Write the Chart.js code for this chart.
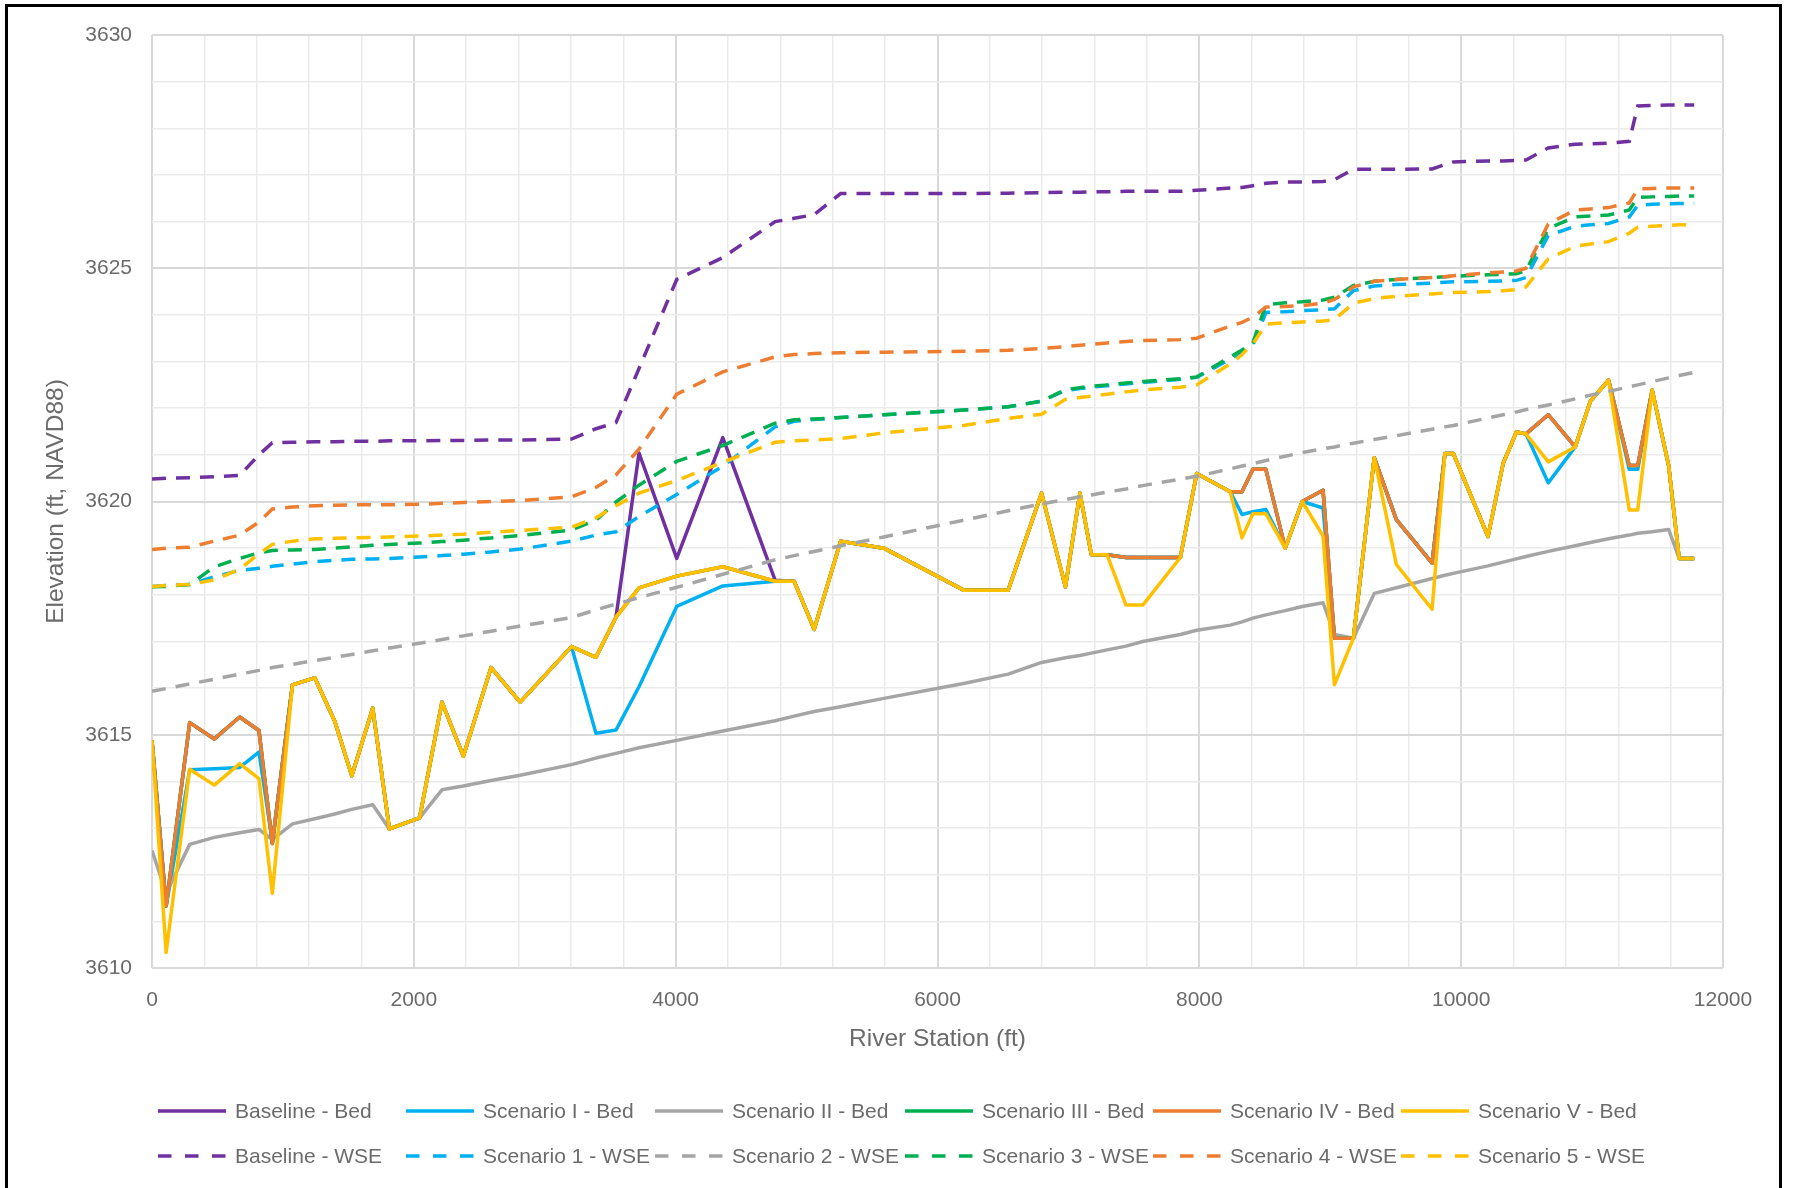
<!doctype html>
<html>
<head>
<title>River Profile - Bed and WSE</title>
<script src="https://cdn.jsdelivr.net/npm/chart.js@4.4.1/dist/chart.umd.min.js"></script>
<style>
	html, body { margin: 0; padding: 0; background: #fff; overflow: hidden; }
	#holder { position: relative; width: 1794px; height: 1188px; }
	#frame {
		position: absolute; left: 5px; top: 4px; width: 1771px; height: 1300px;
		border: 3px solid #000; border-bottom: none; pointer-events: none;
	}
</style>
</head>
<body>
<div id="holder">
	<canvas id="chart"></canvas>
	<div id="frame"></div>
</div>
<script>
// river stations (ft), shared by every series
var stations = [
	0, 108, 288, 476, 670, 817, 919, 1073, 1243, 1396,
	1526, 1686, 1813, 2044, 2215, 2378, 2590, 2812, 3204, 3391,
	3544, 3720, 4008, 4360, 4760, 4905, 5058, 5260, 5590, 6200,
	6540, 6795, 6977, 7088, 7175, 7295, 7440, 7568, 7855, 7980,
	8236, 8326, 8409, 8508, 8656, 8786, 8945, 9032, 9177, 9336,
	9505, 9778, 9876, 9940, 10205, 10321, 10422, 10495, 10665, 10871,
	10987, 11126, 11284, 11349, 11459, 11585, 11665, 11780
];

// bed elevations (ft, NAVD88)
var bedBaseline = [
	3614.88, 3611.33, 3615.26, 3614.91, 3615.38, 3615.09, 3612.67, 3616.07, 3616.22, 3615.29,
	3614.12, 3615.57, 3612.98, 3613.22, 3615.7, 3614.54, 3616.44, 3615.7, 3616.89, 3616.66,
	3617.52, 3621.04, 3618.78, 3621.37, 3618.31, 3618.29, 3617.26, 3619.15, 3619.0, 3618.1,
	3618.1, 3620.18, 3618.17, 3620.18, 3618.86, 3618.86, 3618.8, 3618.8, 3618.8, 3620.6,
	3620.21, 3620.21, 3620.69, 3620.69, 3619.0, 3620.0, 3620.24, 3617.07, 3617.07, 3620.94,
	3619.61, 3618.68, 3621.03, 3621.03, 3619.25, 3620.82, 3621.49, 3621.45, 3621.86, 3621.17,
	3622.15, 3622.6, 3620.77, 3620.77, 3622.39, 3620.77, 3618.78, 3618.78
];
var bedI = [
	3614.88, 3611.33, 3614.25, 3614.27, 3614.3, 3614.63, 3612.7, 3616.07, 3616.22, 3615.29,
	3614.12, 3615.57, 3612.98, 3613.22, 3615.7, 3614.54, 3616.44, 3615.7, 3616.89, 3615.03,
	3615.1, 3616.03, 3617.75, 3618.19, 3618.29, 3618.29, 3617.26, 3619.15, 3619.0, 3618.1,
	3618.1, 3620.18, 3618.17, 3620.18, 3618.86, 3618.86, 3618.8, 3618.8, 3618.8, 3620.6,
	3620.21, 3619.72, 3619.78, 3619.83, 3619.0, 3620.0, 3619.86, 3617.07, 3617.07, 3620.94,
	3619.61, 3618.68, 3621.03, 3621.03, 3619.25, 3620.82, 3621.49, 3621.45, 3620.4, 3621.17,
	3622.15, 3622.6, 3620.69, 3620.69, 3622.39, 3620.77, 3618.78, 3618.78
];
var bedII = [
	3612.52, 3611.6, 3612.65, 3612.8, 3612.9, 3612.97, 3612.75, 3613.09, 3613.2, 3613.3,
	3613.4, 3613.5, 3612.98, 3613.22, 3613.82, 3613.9, 3614.02, 3614.13, 3614.36, 3614.5,
	3614.6, 3614.72, 3614.88, 3615.08, 3615.3, 3615.4, 3615.5, 3615.6, 3615.78, 3616.1,
	3616.3, 3616.55, 3616.65, 3616.7, 3616.75, 3616.82, 3616.9, 3617.0, 3617.15, 3617.24,
	3617.35, 3617.42, 3617.5, 3617.57, 3617.66, 3617.75, 3617.83, 3617.15, 3617.07, 3618.03,
	3618.15, 3618.35, 3618.42, 3618.46, 3618.62, 3618.7, 3618.77, 3618.82, 3618.93, 3619.05,
	3619.12, 3619.2, 3619.28, 3619.32, 3619.35, 3619.4, 3618.78, 3618.78
];
var bedIII = [
	3614.88, 3611.33, 3615.26, 3614.91, 3615.38, 3615.09, 3612.67, 3616.07, 3616.22, 3615.29,
	3614.12, 3615.57, 3612.98, 3613.22, 3615.7, 3614.54, 3616.44, 3615.7, 3616.89, 3616.66,
	3617.52, 3618.15, 3618.4, 3618.6, 3618.29, 3618.29, 3617.26, 3619.15, 3619.0, 3618.1,
	3618.1, 3620.18, 3618.17, 3620.18, 3618.86, 3618.86, 3618.8, 3618.8, 3618.8, 3620.6,
	3620.21, 3620.21, 3620.69, 3620.69, 3619.0, 3620.0, 3620.24, 3617.07, 3617.07, 3620.94,
	3619.61, 3618.68, 3621.03, 3621.03, 3619.25, 3620.82, 3621.49, 3621.45, 3621.86, 3621.17,
	3622.15, 3622.6, 3620.77, 3620.77, 3622.39, 3620.77, 3618.78, 3618.78
];
var bedIV = [
	3614.88, 3611.33, 3615.26, 3614.91, 3615.38, 3615.09, 3612.67, 3616.07, 3616.22, 3615.29,
	3614.12, 3615.57, 3612.98, 3613.22, 3615.7, 3614.54, 3616.44, 3615.7, 3616.89, 3616.66,
	3617.52, 3618.15, 3618.4, 3618.6, 3618.29, 3618.29, 3617.26, 3619.15, 3619.0, 3618.1,
	3618.1, 3620.18, 3618.17, 3620.18, 3618.86, 3618.86, 3618.8, 3618.8, 3618.8, 3620.6,
	3620.21, 3620.21, 3620.69, 3620.69, 3619.0, 3620.0, 3620.24, 3617.07, 3617.07, 3620.94,
	3619.61, 3618.68, 3621.03, 3621.03, 3619.25, 3620.82, 3621.49, 3621.45, 3621.86, 3621.17,
	3622.15, 3622.6, 3620.77, 3620.77, 3622.39, 3620.77, 3618.78, 3618.78
];
var bedV = [
	3614.88, 3610.33, 3614.26, 3613.92, 3614.38, 3614.06, 3611.6, 3616.07, 3616.22, 3615.29,
	3614.12, 3615.57, 3612.98, 3613.22, 3615.7, 3614.54, 3616.44, 3615.7, 3616.89, 3616.66,
	3617.52, 3618.15, 3618.4, 3618.6, 3618.29, 3618.29, 3617.26, 3619.15, 3619.0, 3618.1,
	3618.1, 3620.18, 3618.17, 3620.18, 3618.86, 3618.86, 3617.78, 3617.78, 3618.8, 3620.6,
	3620.21, 3619.22, 3619.74, 3619.74, 3619.0, 3620.0, 3619.26, 3616.07, 3617.07, 3620.94,
	3618.65, 3617.69, 3621.03, 3621.03, 3619.25, 3620.82, 3621.49, 3621.45, 3620.85, 3621.17,
	3622.15, 3622.6, 3619.82, 3619.82, 3622.39, 3620.77, 3618.78, 3618.78
];

// water surface elevations (ft, NAVD88)
var wseBaseline = [
	3620.48, 3620.5, 3620.51, 3620.53, 3620.56, 3621.0, 3621.26, 3621.27, 3621.28, 3621.28,
	3621.29, 3621.29, 3621.3, 3621.3, 3621.31, 3621.31, 3621.32, 3621.32, 3621.34, 3621.56,
	3621.69, 3622.85, 3624.76, 3625.23, 3626.0, 3626.07, 3626.15, 3626.6, 3626.6, 3626.6,
	3626.61, 3626.62, 3626.63, 3626.63, 3626.64, 3626.64, 3626.65, 3626.65, 3626.65, 3626.67,
	3626.72, 3626.73, 3626.77, 3626.82, 3626.85, 3626.85, 3626.86, 3626.9, 3627.12, 3627.12,
	3627.12, 3627.13, 3627.22, 3627.28, 3627.3, 3627.3, 3627.31, 3627.32, 3627.58, 3627.66,
	3627.67, 3627.68, 3627.72, 3628.48, 3628.49, 3628.5, 3628.5, 3628.5
];
var wse1 = [
	3618.18, 3618.2, 3618.22, 3618.39, 3618.52, 3618.57, 3618.61, 3618.66, 3618.71, 3618.74,
	3618.76, 3618.77, 3618.78, 3618.81, 3618.84, 3618.87, 3618.92, 3618.98, 3619.15, 3619.28,
	3619.35, 3619.68, 3620.15, 3620.76, 3621.6, 3621.72, 3621.76, 3621.8, 3621.86, 3621.96,
	3622.03, 3622.15, 3622.38, 3622.42, 3622.45, 3622.48, 3622.52, 3622.55, 3622.62, 3622.66,
	3623.05, 3623.2, 3623.35, 3624.05, 3624.07, 3624.09, 3624.11, 3624.13, 3624.52, 3624.62,
	3624.65, 3624.68, 3624.7, 3624.71, 3624.72, 3624.73, 3624.74, 3624.8, 3625.7, 3625.9,
	3625.93, 3625.96, 3626.1, 3626.35, 3626.37, 3626.38, 3626.39, 3626.39
];
var wse2 = [
	3615.93, 3615.99, 3616.09, 3616.19, 3616.3, 3616.38, 3616.44, 3616.51, 3616.59, 3616.66,
	3616.72, 3616.8, 3616.86, 3616.96, 3617.04, 3617.12, 3617.22, 3617.33, 3617.51, 3617.68,
	3617.8, 3617.94, 3618.16, 3618.44, 3618.75, 3618.84, 3618.93, 3619.05, 3619.24, 3619.6,
	3619.8, 3619.95, 3620.04, 3620.1, 3620.14, 3620.2, 3620.27, 3620.34, 3620.48, 3620.54,
	3620.7, 3620.76, 3620.81, 3620.88, 3620.97, 3621.05, 3621.13, 3621.17, 3621.25, 3621.33,
	3621.41, 3621.55, 3621.6, 3621.63, 3621.79, 3621.86, 3621.92, 3621.97, 3622.07, 3622.2,
	3622.28, 3622.36, 3622.46, 3622.5, 3622.57, 3622.65, 3622.7, 3622.77
];
var wse3 = [
	3618.17, 3618.18, 3618.22, 3618.6, 3618.78, 3618.9, 3618.95, 3618.96, 3618.97, 3619.0,
	3619.03, 3619.06, 3619.08, 3619.11, 3619.14, 3619.17, 3619.22, 3619.27, 3619.39, 3619.6,
	3619.99, 3620.35, 3620.86, 3621.2, 3621.68, 3621.75, 3621.77, 3621.8, 3621.86, 3621.96,
	3622.03, 3622.15, 3622.4, 3622.44, 3622.47, 3622.5, 3622.54, 3622.57, 3622.63, 3622.67,
	3623.1, 3623.25, 3623.4, 3624.22, 3624.26, 3624.28, 3624.32, 3624.38, 3624.63, 3624.72,
	3624.76, 3624.8, 3624.82, 3624.83, 3624.86, 3624.87, 3624.88, 3624.95, 3625.85, 3626.1,
	3626.12, 3626.14, 3626.25, 3626.52, 3626.53, 3626.54, 3626.55, 3626.55
];
var wse4 = [
	3618.97, 3619.0, 3619.02, 3619.15, 3619.28, 3619.56, 3619.84, 3619.88, 3619.91, 3619.92,
	3619.93, 3619.93, 3619.93, 3619.94, 3619.96, 3619.98, 3620.0, 3620.02, 3620.1, 3620.3,
	3620.57, 3621.12, 3622.3, 3622.78, 3623.1, 3623.15, 3623.17, 3623.19, 3623.2, 3623.22,
	3623.24, 3623.28, 3623.32, 3623.35, 3623.37, 3623.4, 3623.43, 3623.45, 3623.47, 3623.5,
	3623.76, 3623.84, 3623.95, 3624.17, 3624.18, 3624.2, 3624.25, 3624.33, 3624.6, 3624.72,
	3624.76, 3624.8, 3624.82, 3624.84, 3624.9, 3624.92, 3624.94, 3625.0, 3625.95, 3626.25,
	3626.27, 3626.3, 3626.4, 3626.7, 3626.71, 3626.72, 3626.72, 3626.72
];
var wse5 = [
	3618.18, 3618.2, 3618.22, 3618.32, 3618.55, 3618.88, 3619.08, 3619.15, 3619.2, 3619.21,
	3619.22, 3619.23, 3619.24, 3619.26, 3619.28, 3619.3, 3619.34, 3619.38, 3619.45, 3619.65,
	3619.91, 3620.18, 3620.45, 3620.84, 3621.27, 3621.3, 3621.32, 3621.35, 3621.47, 3621.63,
	3621.78, 3621.87, 3622.19, 3622.23, 3622.26, 3622.3, 3622.35, 3622.39, 3622.45, 3622.5,
	3622.95, 3623.15, 3623.38, 3623.8, 3623.83, 3623.85, 3623.87, 3623.9, 3624.25, 3624.35,
	3624.4, 3624.45, 3624.47, 3624.48, 3624.5, 3624.52, 3624.54, 3624.6, 3625.2, 3625.47,
	3625.52, 3625.57, 3625.75, 3625.88, 3625.9, 3625.92, 3625.93, 3625.94
];

var bedLabels = ['Baseline - Bed', 'Scenario I - Bed', 'Scenario II - Bed', 'Scenario III - Bed', 'Scenario IV - Bed', 'Scenario V - Bed'];
var wseLabels = ['Baseline - WSE', 'Scenario 1 - WSE', 'Scenario 2 - WSE', 'Scenario 3 - WSE', 'Scenario 4 - WSE', 'Scenario 5 - WSE'];
var bedSeries = [bedBaseline, bedI, bedII, bedIII, bedIV, bedV];
var wseSeries = [wseBaseline, wse1, wse2, wse3, wse4, wse5];

var seriesColors = ['#7030A0', '#00B0F0', '#A5A5A5', '#00B050', '#ED7D31', '#FFC000'];
var FONT = "'Liberation Sans Narrow', 'Liberation Sans', Arial, sans-serif";
var TEXT = '#6b6b6b';
var MAJOR = '#d9d9d9';
var MINOR = '#ebebeb';

// legend grid: 6 columns x 2 rows under the plot
var legendCols = [158, 406, 655, 905, 1153, 1401];
var legendRows = [1111, 1156];

function toPoints(values) {
	return stations.map(function(s, i) {
		return {x: s, y: values[i]};
	});
}

var datasets = [];
bedSeries.forEach(function(vals, i) {
	datasets.push({
		label: bedLabels[i],
		data: toPoints(vals),
		borderColor: seriesColors[i],
		backgroundColor: seriesColors[i],
		borderWidth: 3.5,
		borderJoinStyle: 'round',
		pointRadius: 0,
		tension: 0,
		fill: false,
		order: 11 - i
	});
});
wseSeries.forEach(function(vals, i) {
	datasets.push({
		label: wseLabels[i],
		data: toPoints(vals),
		borderColor: seriesColors[i],
		backgroundColor: seriesColors[i],
		borderWidth: 3.5,
		borderDash: [14, 10],
		pointRadius: 0,
		tension: 0,
		fill: false,
		order: 5 - i
	});
});

var gridLegend = {
	id: 'gridLegend',
	afterDraw: function(chart) {
		var ctx = chart.ctx;
		chart.data.datasets.forEach(function(ds, i) {
			var x = legendCols[i % 6];
			var y = legendRows[Math.floor(i / 6)];
			ctx.save();
			ctx.strokeStyle = ds.borderColor;
			ctx.lineWidth = 3.5;
			ctx.setLineDash(ds.borderDash ? [13.5, 13.5] : []);
			ctx.beginPath();
			ctx.moveTo(x, y);
			ctx.lineTo(x + 68, y);
			ctx.stroke();
			ctx.setLineDash([]);
			ctx.fillStyle = TEXT;
			ctx.font = '21px ' + FONT;
			ctx.textBaseline = 'middle';
			ctx.fillText(ds.label, x + 77, y + 1);
			ctx.restore();
		});
	}
};

Chart.defaults.font.family = FONT;
Chart.defaults.color = TEXT;

window.onload = function() {
	var chartEl = document.getElementById('chart');
	window.profileChart = new Chart(chartEl, {
		type: 'line',
		data: {datasets: datasets},
		plugins: [gridLegend],
		options: {
			responsive: true,
			maintainAspectRatio: false,
			animation: false,
			layout: {
				padding: {left: 0, top: 35, right: 71, bottom: 134}
			},
			plugins: {
				legend: {display: false},
				tooltip: {enabled: false}
			},
			scales: {
				x: {
					type: 'linear',
					min: 0,
					max: 12000,
					afterFit: function(scale) { scale.height = 86; },
					border: {display: false},
					grid: {
						drawTicks: false,
						color: function(c) { return c.tick && c.tick.value % 2000 === 0 ? MAJOR : MINOR; },
						lineWidth: function(c) { return c.tick && c.tick.value % 2000 === 0 ? 2 : 1.5; }
					},
					ticks: {
						stepSize: 400,
						autoSkip: false,
						maxRotation: 0,
						padding: 20,
						color: TEXT,
						font: {size: 21},
						callback: function(v) { return v % 2000 === 0 ? String(v) : ''; }
					},
					title: {
						display: true,
						text: 'River Station (ft)',
						color: TEXT,
						font: {size: 24.5},
						padding: 0
					}
				},
				y: {
					type: 'linear',
					min: 3610,
					max: 3630,
					afterFit: function(scale) { scale.width = 152; },
					border: {display: false},
					grid: {
						drawTicks: false,
						color: function(c) { return c.tick && c.tick.value % 5 === 0 ? MAJOR : MINOR; },
						lineWidth: function(c) { return c.tick && c.tick.value % 5 === 0 ? 2 : 1.5; }
					},
					ticks: {
						stepSize: 1,
						autoSkip: false,
						padding: 20,
						color: TEXT,
						font: {size: 21},
						callback: function(v) { return v % 5 === 0 ? String(v) : ''; }
					},
					title: {
						display: true,
						text: 'Elevation (ft, NAVD88)',
						color: TEXT,
						font: {size: 24.5},
						padding: {top: 42, bottom: 0}
					}
				}
			}
		}
	});
};
</script>
</body>
</html>
